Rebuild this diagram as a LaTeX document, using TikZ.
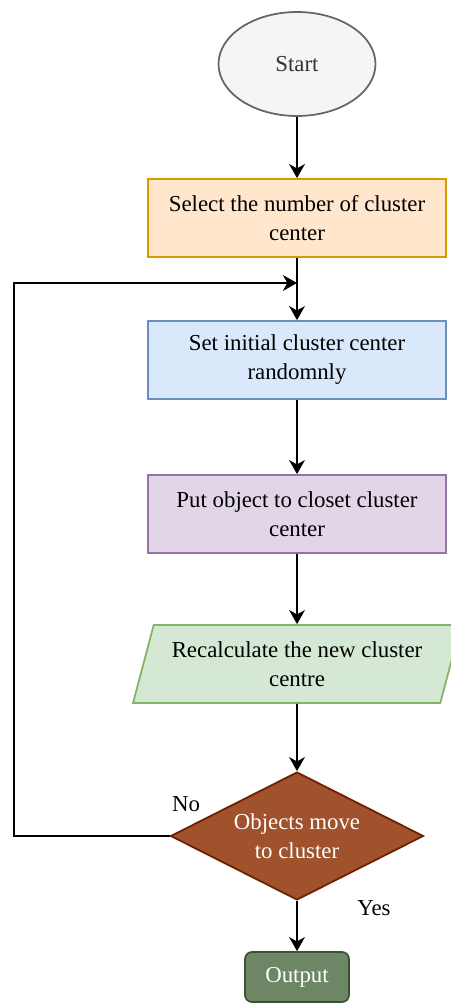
\documentclass[tikz,border=0pt]{standalone}
\usepackage{fontspec}
\setmainfont{Liberation Serif}
\usepackage{tikz}
\usepackage{xcolor}
\usetikzlibrary{arrows.meta,shapes.geometric}

\definecolor{startfill}{HTML}{F5F5F5}
\definecolor{startline}{HTML}{666666}
\definecolor{orangefill}{HTML}{FFE6CC}
\definecolor{orangeline}{HTML}{D79B00}
\definecolor{bluefill}{HTML}{DAE8FC}
\definecolor{blueline}{HTML}{6C8EBF}
\definecolor{purplefill}{HTML}{E1D5E7}
\definecolor{purpleline}{HTML}{9673A6}
\definecolor{greenfill}{HTML}{D5E8D4}
\definecolor{greenline}{HTML}{82B366}
\definecolor{brownfill}{HTML}{A0522D}
\definecolor{brownline}{HTML}{6D1F00}
\definecolor{outfill}{HTML}{6D8764}
\definecolor{outline}{HTML}{3A5431}

\begin{document}
\begin{tikzpicture}[x=0.02cm, y=-0.02cm,
  every node/.style={font=\fontsize{13}{16.5}\selectfont, align=center, line width=1pt},
  stepbox/.style={draw, rectangle, minimum width=5.96cm, minimum height=1.56cm},
  flow/.style={line width=1pt, -{Stealth[length=8pt,width=9pt,inset=2.5pt]}}]
  \useasboundingbox (0,0) rectangle (450,1003);

  \node[ellipse, draw=startline, fill=startfill, minimum width=3.14cm, minimum height=2.08cm, text=black!80] (start) at (297,64) {Start};

  \node[stepbox, draw=orangeline, fill=orangefill] (select) at (297,218) {Select the number of cluster\\center};
  \node[stepbox, draw=blueline, fill=bluefill] (init) at (297,360) {Set initial cluster center\\randomnly};
  \node[stepbox, draw=purpleline, fill=purplefill] (assign) at (297,514) {Put object to closet cluster\\center};

  \node[trapezium, trapezium left angle=70, trapezium right angle=110, trapezium stretches body,
        draw=greenline, fill=greenfill, minimum width=6.56cm, minimum height=1.56cm] (recalc) at (297,664) {Recalculate the new cluster\\centre};

  \node[diamond, aspect=2, draw=brownline, fill=brownfill, text=white, inner sep=0pt, minimum width=5.06cm, minimum height=2.56cm] (check) at (297,836) {Objects move\\to cluster};

  \node[rectangle, rounded corners=4pt, draw=outline, fill=outfill, text=white, minimum width=2.08cm, minimum height=1cm] (output) at (297,977) {Output};

  \node (nolabel) at (186,804) {No};
  \node (yeslabel) at (374,908) {Yes};

  \coordinate (loopin) at (297,283);
  \coordinate (loopleft) at (14,283);

  \draw[flow] (start) -- (select);
  \draw[flow] (select) -- (init);
  \draw[flow] (init) -- (assign);
  \draw[flow] (assign) -- (recalc);
  \draw[flow] (recalc) -- (check);
  \draw[flow] (check) -- (output);
  \draw[flow] (check.west) -| (loopleft) -- (loopin);
\end{tikzpicture}
\end{document}
